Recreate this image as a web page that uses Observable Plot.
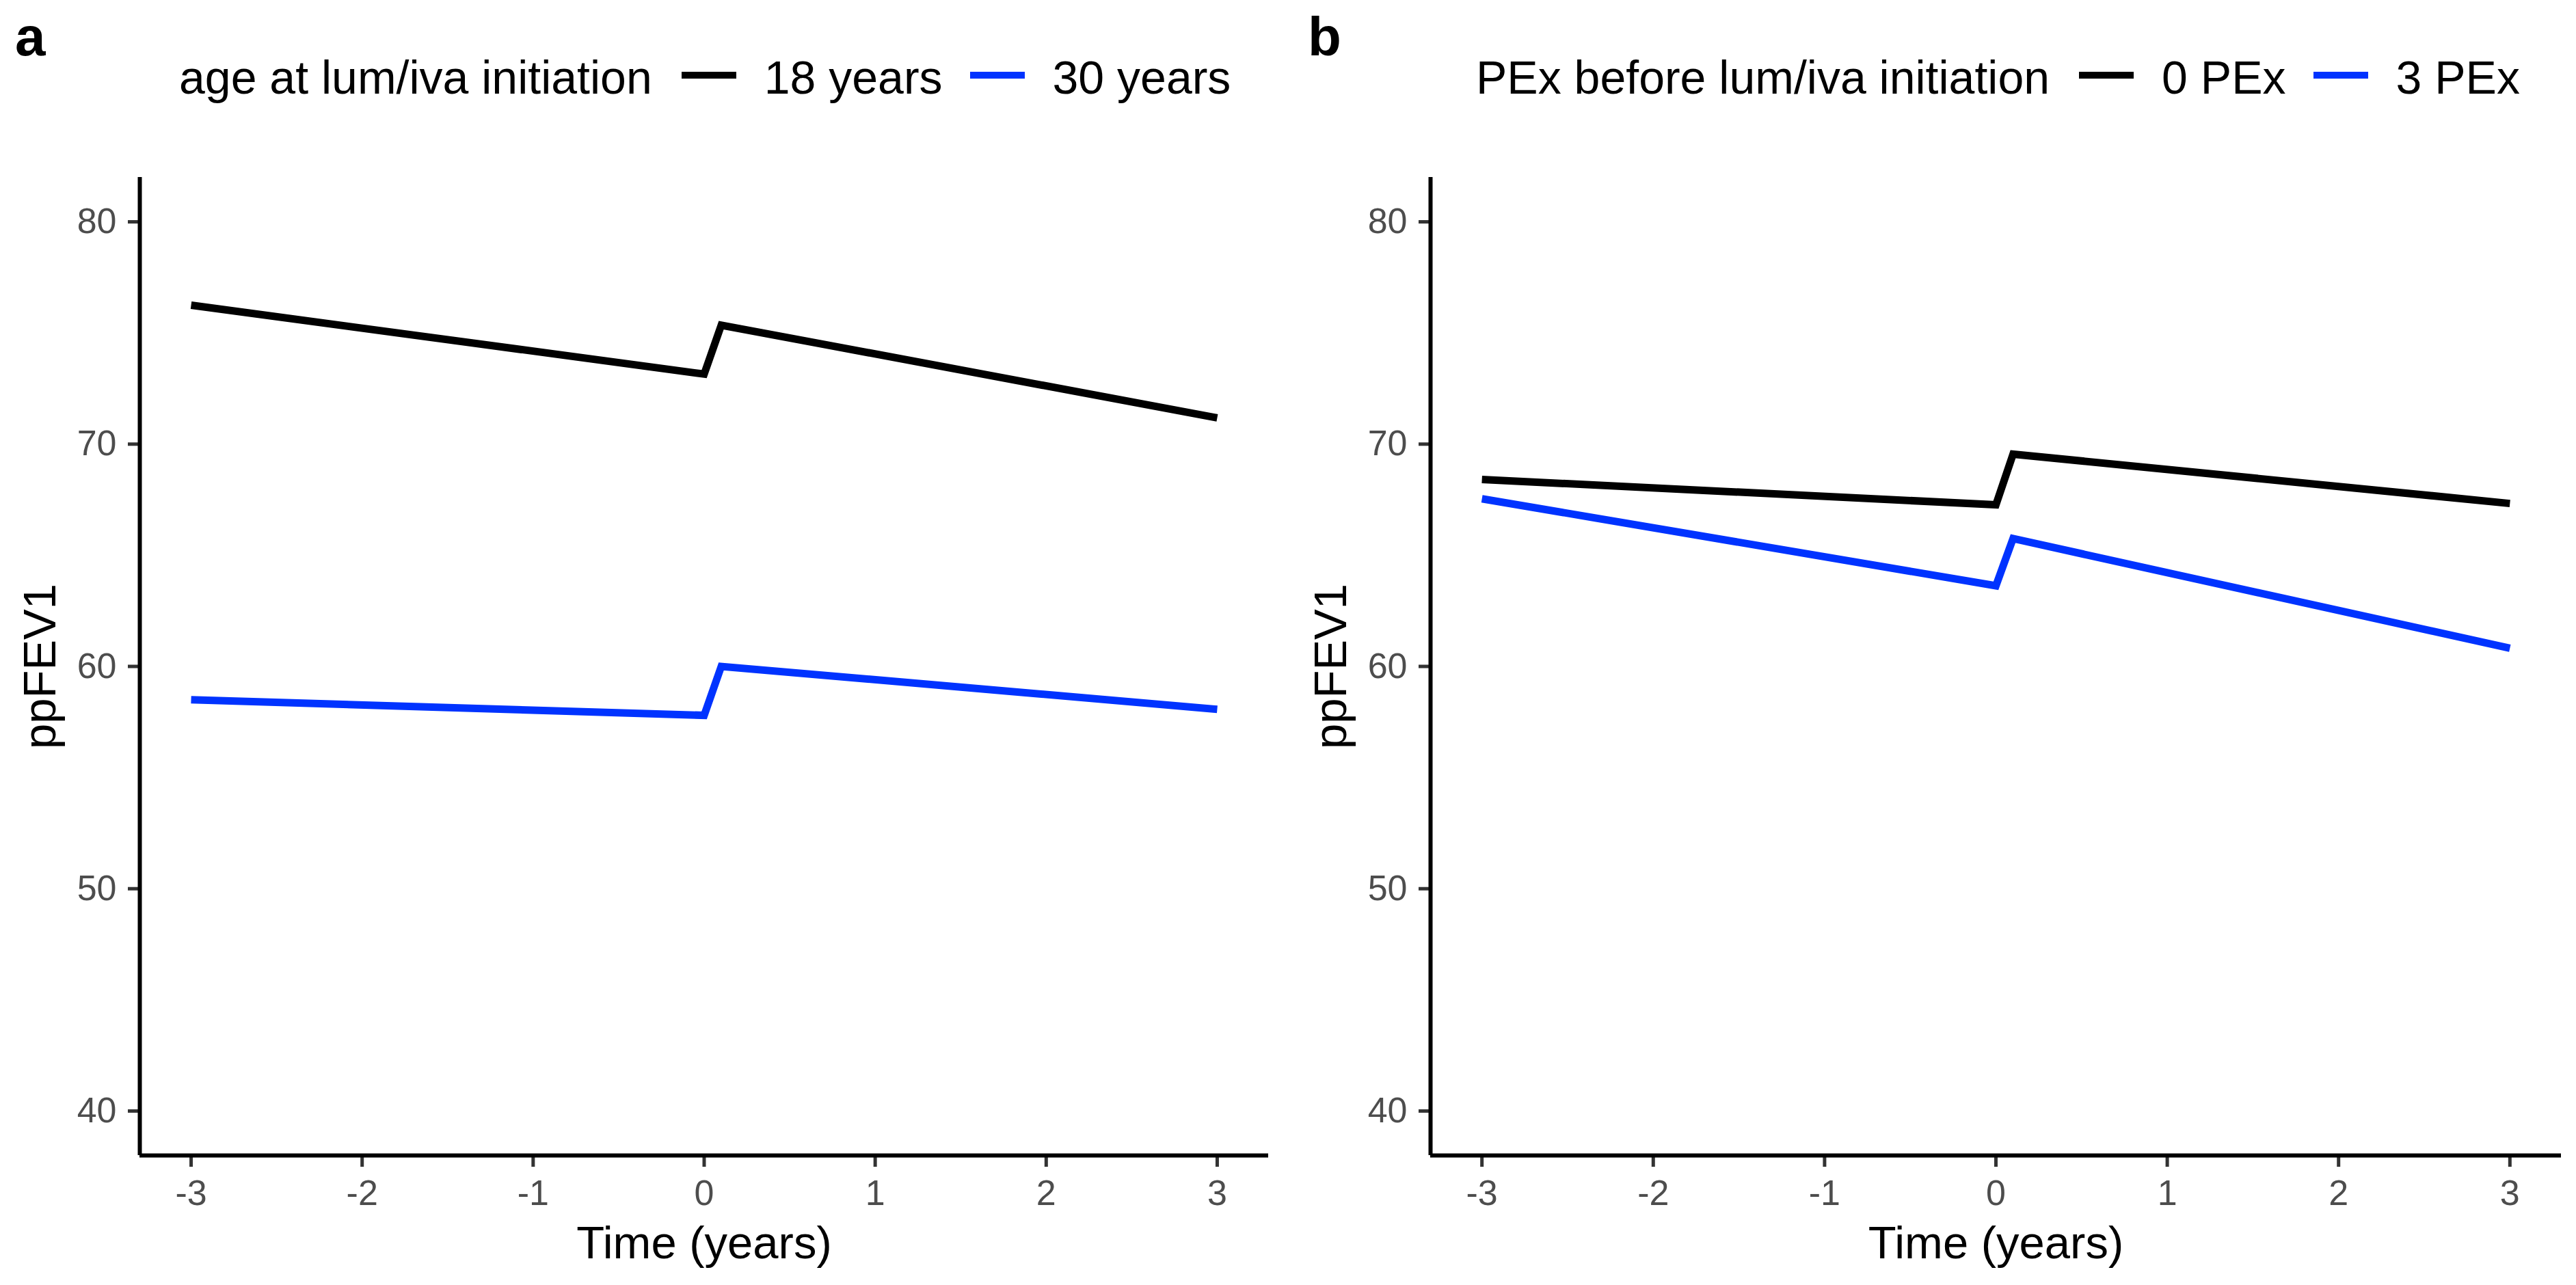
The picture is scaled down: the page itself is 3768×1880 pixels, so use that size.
<!DOCTYPE html>
<html>
<head>
<meta charset="utf-8">
<script src="https://cdn.jsdelivr.net/npm/d3@7"></script>
<script src="https://cdn.jsdelivr.net/npm/@observablehq/plot@0.6"></script>
<style>
  html, body { margin: 0; padding: 0; background: #ffffff; }
  #page { position: relative; width: 3768px; height: 1880px; background: #ffffff;
          font-family: "Liberation Sans", Arial, sans-serif; color: #000; overflow: hidden; }
  .tag { position: absolute; font-weight: bold; font-size: 80px; line-height: 1; }
  .legend { position: absolute; display: flex; align-items: center; font-size: 68px; line-height: 1; white-space: nowrap; }
  .key { display: inline-block; width: 80px; height: 10px; position: relative; top: -3px; }
  .panel { position: absolute; top: 200px; }
</style>
</head>
<body>
<div id="page">
  <div class="tag" style="left:22px; top:14px;">a</div>
  <div class="tag" style="left:1913px; top:14px;">b</div>
  <div class="legend" id="legA" style="left:262px; top:79px;"></div>
  <div class="legend" id="legB" style="left:2159px; top:79px;"></div>
  <div class="panel" id="panelA" style="left:0px;"></div>
  <div class="panel" id="panelB" style="left:1884px;"></div>
</div>
<script>
// ---- data ----
const times = [-3, 0, 0.1, 3];
const ageLabels = ["18 years", "30 years"];
const age18 = [76.25, 73.15, 75.35, 71.18];
const age30 = [58.5, 57.8, 60.0, 58.07];
const pexLabels = ["0 PEx", "3 PEx"];
const pex0 = [68.41, 67.27, 69.55, 67.33];
const pex3 = [67.54, 63.63, 65.75, 60.82];
const xTicks = [-3, -2, -1, 0, 1, 2, 3];
const yTicks = [40, 50, 60, 70, 80];
const seriesColors = ["#000000", "#0033ff"];
const legendTitleA = "age at lum/iva initiation";
const legendTitleB = "PEx before lum/iva initiation";
const xTitle = "Time (years)";
const yTitle = "ppFEV1";

function rows(labels, seriesList) {
  const out = [];
  labels.forEach((lab, i) => {
    times.forEach((t, j) => out.push({group: lab, time: t, value: seriesList[i][j]}));
  });
  return out;
}

const FONT = '"Liberation Sans", Arial, sans-serif';

function panel(labels, seriesList, marginLeft, marginRight) {
  const data = rows(labels, seriesList);
  return Plot.plot({
    width: 1884,
    height: 1680,
    marginLeft, marginRight,
    marginTop: 59,
    marginBottom: 190,
    style: {fontFamily: FONT, background: "#ffffff", overflow: "visible"},
    x: {domain: [-3.3, 3.3]},
    y: {domain: [38, 82]},
    color: {domain: labels, range: seriesColors},
    marks: [
      Plot.axisX({ticks: xTicks, tickSize: 17, tickPadding: 19, fontSize: 52,
                  fill: "#4d4d4d", stroke: "#333333", strokeWidth: 5,
                  tickFormat: d => String(d), label: null}),
      Plot.axisY({ticks: yTicks, tickSize: 17, tickPadding: 17, fontSize: 52,
                  fill: "#4d4d4d", stroke: "#333333", strokeWidth: 5,
                  tickFormat: d => String(d), label: null}),
      Plot.ruleX([-3.3], {stroke: "#000000", strokeWidth: 6}),
      Plot.ruleY([38], {stroke: "#000000", strokeWidth: 6}),
      Plot.line(data, {x: "time", y: "value", z: "group", stroke: "group",
                       strokeWidth: 11, strokeLinecap: "butt", strokeLinejoin: "miter",
                       strokeMiterlimit: 10}),
      Plot.text([xTitle], {text: d => d, frameAnchor: "bottom", textAnchor: "middle",
                           lineAnchor: "bottom", dy: 150, fontSize: 67, fill: "#000000"}),
      Plot.text([yTitle], {text: d => d, frameAnchor: "left", textAnchor: "middle",
                           lineAnchor: "middle", dx: -145, rotate: -90, fontSize: 67, fill: "#000000"})
    ]
  });
}

function legend(el, title, labels) {
  const t = document.createElement("span");
  t.textContent = title;
  el.appendChild(t);
  labels.forEach((lab, i) => {
    const k = document.createElement("span");
    k.className = "key";
    k.style.background = seriesColors[i];
    k.style.marginLeft = (i === 0 ? 43 : 40) + "px";
    k.style.marginRight = "41px";
    el.appendChild(k);
    const s = document.createElement("span");
    s.textContent = lab;
    el.appendChild(s);
  });
}

legend(document.getElementById("legA"), legendTitleA, ageLabels);
legend(document.getElementById("legB"), legendTitleB, pexLabels);
document.getElementById("panelA").appendChild(panel(ageLabels, [age18, age30], 204, 29));
document.getElementById("panelB").appendChild(panel(pexLabels, [pex0, pex3], 208, 22));
</script>
</body>
</html>
